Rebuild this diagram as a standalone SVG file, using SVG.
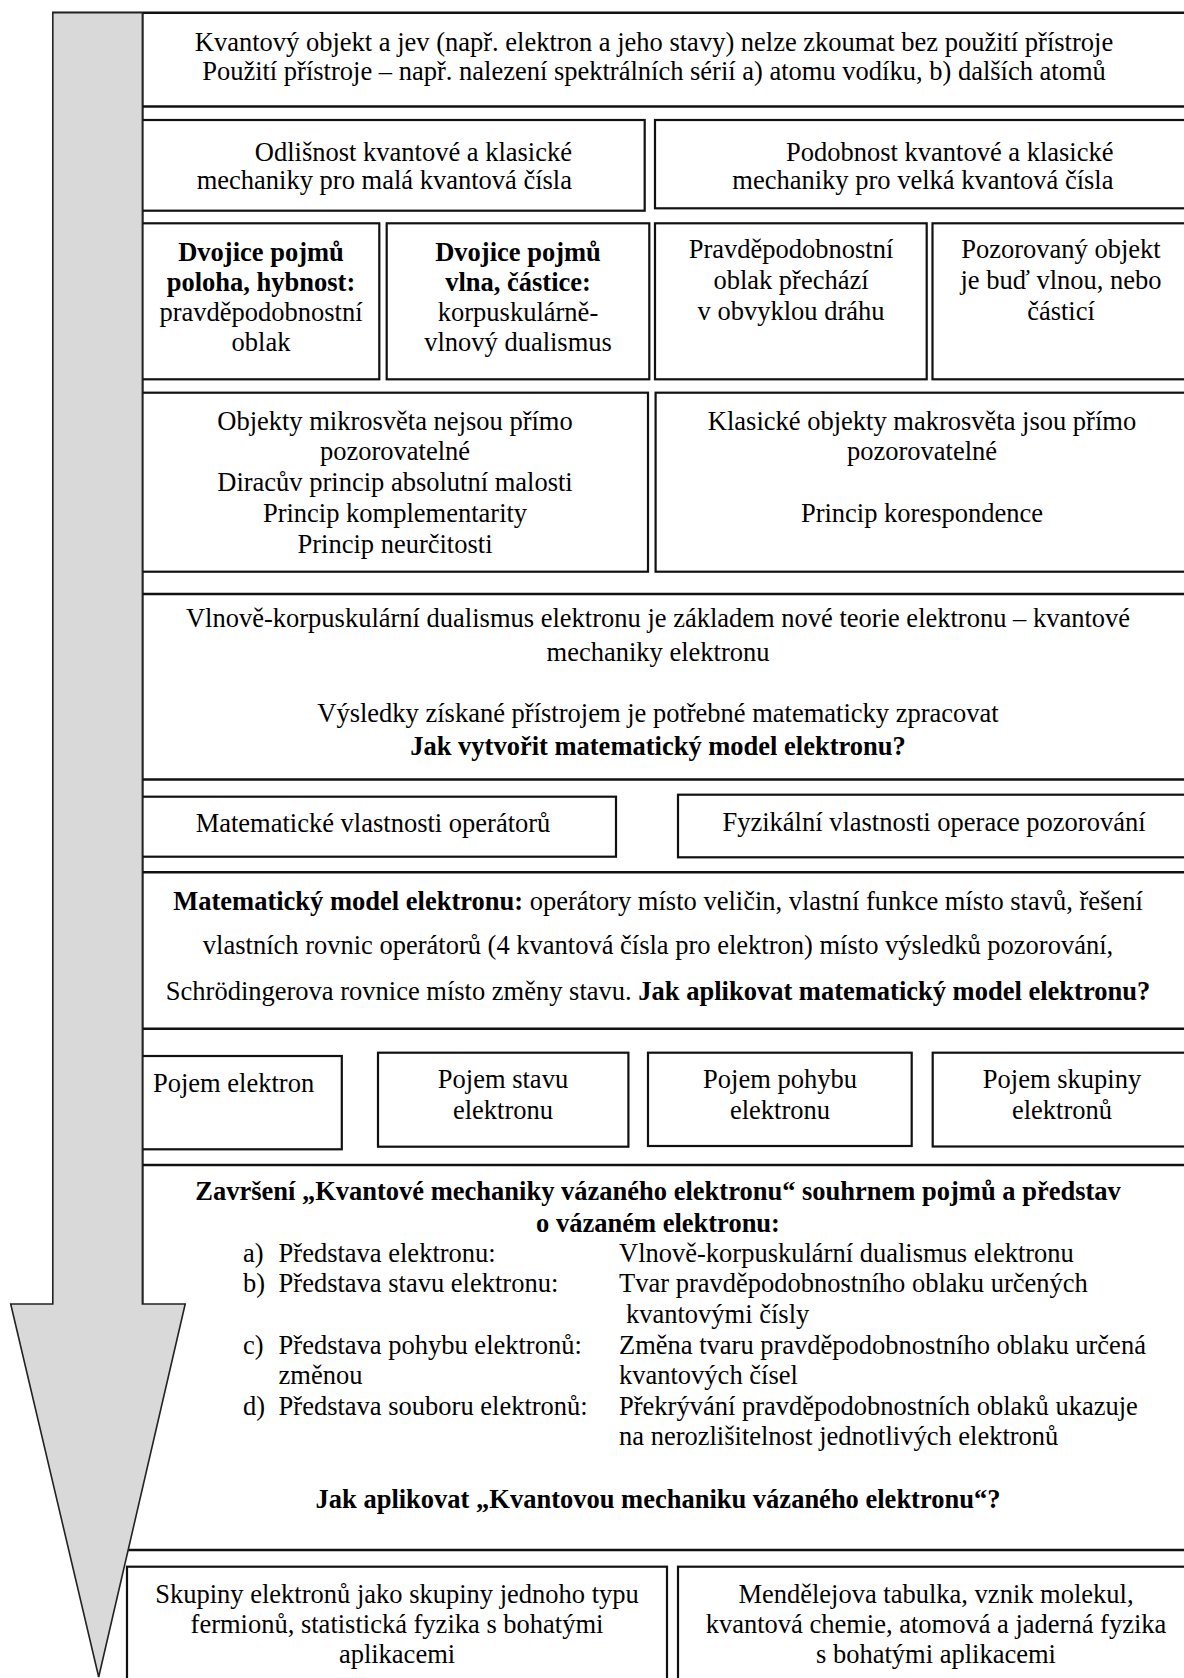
<svg xmlns="http://www.w3.org/2000/svg" width="1184" height="1678" viewBox="0 0 1184 1678">
<style>
text{font-family:"Liberation Serif","Times New Roman",serif;font-size:26.5px;fill:#000}
.c{text-anchor:middle}
.e{text-anchor:end}
.b{font-weight:bold}
.box{fill:#fff;stroke:#111;stroke-width:2.2}
.rl{stroke:#111;stroke-width:2.4;fill:none}
.arrow{fill:#d9d9d9;stroke:#222;stroke-width:1.6;stroke-linejoin:miter}
</style>
<rect width="1184" height="1678" fill="#fff"/>
<g id="connectors">
<line class="rl" x1="52" y1="12.7" x2="1192" y2="12.7"/>
<line class="rl" x1="142.4" y1="106.5" x2="1192" y2="106.5"/>
<line class="rl" x1="142.4" y1="594" x2="1192" y2="594"/>
<line class="rl" x1="142.4" y1="779.5" x2="1192" y2="779.5"/>
<line class="rl" x1="142.4" y1="872.3" x2="1192" y2="872.3"/>
<line class="rl" x1="142.4" y1="1028.7" x2="1192" y2="1028.7"/>
<line class="rl" x1="142.4" y1="1165" x2="1192" y2="1165"/>
<line class="rl" x1="110" y1="1550" x2="1192" y2="1550"/>
<line class="rl" x1="142.4" y1="12.7" x2="142.4" y2="1340"/>
</g>
<g id="n-kvantovy">
<text class="c" x="654" y="51">Kvantový objekt a jev (např. elektron a jeho stavy) nelze zkoumat bez použití přístroje</text>
<text class="c" x="654" y="80">Použití přístroje – např. nalezení spektrálních sérií a) atomu vodíku, b) dalších atomů</text>
</g>
<g id="n-odlisnost">
<rect class="box" x="142.4" y="120" width="502.3" height="90.7"/>
<text class="e" x="572" y="161">Odlišnost kvantové a klasické</text>
<text class="e" x="572" y="189">mechaniky pro malá kvantová čísla</text>
</g>
<g id="n-podobnost">
<rect class="box" x="655" y="120" width="537" height="88.3"/>
<text class="e" x="1113.5" y="161">Podobnost kvantové a klasické</text>
<text class="e" x="1113.5" y="189">mechaniky pro velká kvantová čísla</text>
</g>
<g id="n-dvojice1">
<rect class="box" x="142.4" y="223.3" width="236.9" height="156"/>
<text class="c b" x="261" y="261">Dvojice pojmů</text>
<text class="c b" x="261" y="291">poloha, hybnost:</text>
<text class="c" x="261" y="321">pravděpodobnostní</text>
<text class="c" x="261" y="351">oblak</text>
</g>
<g id="n-dvojice2">
<rect class="box" x="386.7" y="223.3" width="262.6" height="156"/>
<text class="c b" x="518" y="261">Dvojice pojmů</text>
<text class="c b" x="518" y="291">vlna, částice:</text>
<text class="c" x="518" y="321">korpuskulárně-</text>
<text class="c" x="518" y="351">vlnový dualismus</text>
</g>
<g id="n-oblak">
<rect class="box" x="655" y="223.3" width="271.7" height="156"/>
<text class="c" x="791" y="258">Pravděpodobnostní</text>
<text class="c" x="791" y="288.5">oblak přechází</text>
<text class="c" x="791" y="319.5">v obvyklou dráhu</text>
</g>
<g id="n-pozorovany">
<rect class="box" x="932.5" y="223.3" width="259.5" height="156"/>
<text class="c" x="1061" y="258">Pozorovaný objekt</text>
<text class="c" x="1061" y="288.5">je buď vlnou, nebo</text>
<text class="c" x="1061" y="319.5">částicí</text>
</g>
<g id="n-objekty">
<rect class="box" x="142.4" y="392.7" width="505.6" height="179"/>
<text class="c" x="395" y="430">Objekty mikrosvěta nejsou přímo</text>
<text class="c" x="395" y="460">pozorovatelné</text>
<text class="c" x="395" y="491">Diracův princip absolutní malosti</text>
<text class="c" x="395" y="522">Princip komplementarity</text>
<text class="c" x="395" y="553">Princip neurčitosti</text>
</g>
<g id="n-klasicke">
<rect class="box" x="655.6" y="392.7" width="536.4" height="179"/>
<text class="c" x="922" y="430">Klasické objekty makrosvěta jsou přímo</text>
<text class="c" x="922" y="460">pozorovatelné</text>
<text class="c" x="922" y="522">Princip korespondence</text>
</g>
<g id="n-vlnove">
<text class="c" x="658" y="626.5">Vlnově-korpuskulární dualismus elektronu je základem nové teorie elektronu – kvantové</text>
<text class="c" x="658" y="661">mechaniky elektronu</text>
<text class="c" x="658" y="721.5">Výsledky získané přístrojem je potřebné matematicky zpracovat</text>
<text class="c b" x="658" y="754.5">Jak vytvořit matematický model elektronu?</text>
</g>
<g id="n-mat-operatory">
<rect class="box" x="142.4" y="796.7" width="473.6" height="60"/>
<text class="c" x="373" y="832">Matematické vlastnosti operátorů</text>
</g>
<g id="n-fyz-pozorovani">
<rect class="box" x="678" y="794.7" width="514" height="62.6"/>
<text class="c" x="934" y="831">Fyzikální vlastnosti operace pozorování</text>
</g>
<g id="n-mat-model">
<text class="c" x="658" y="910"><tspan class="b">Matematický model elektronu:</tspan> operátory místo veličin, vlastní funkce místo stavů, řešení</text>
<text class="c" x="658" y="953.5">vlastních rovnic operátorů (4 kvantová čísla pro elektron) místo výsledků pozorování,</text>
<text class="c" x="658" y="1000">Schrödingerova rovnice místo změny stavu. <tspan class="b">Jak aplikovat matematický model elektronu?</tspan></text>
</g>
<g id="n-pojem-elektron">
<rect class="box" x="142.4" y="1056" width="199.4" height="93.3"/>
<text x="153" y="1091.5">Pojem elektron</text>
</g>
<g id="n-pojem-stavu">
<rect class="box" x="378" y="1052.7" width="250.4" height="94"/>
<text class="c" x="503" y="1087.5">Pojem stavu</text>
<text class="c" x="503" y="1118.5">elektronu</text>
</g>
<g id="n-pojem-pohybu">
<rect class="box" x="648" y="1052.7" width="263.7" height="93.3"/>
<text class="c" x="780" y="1087.5">Pojem pohybu</text>
<text class="c" x="780" y="1118.5">elektronu</text>
</g>
<g id="n-pojem-skupiny">
<rect class="box" x="932.7" y="1052.7" width="259.3" height="93.8"/>
<text class="c" x="1062" y="1087.5">Pojem skupiny</text>
<text class="c" x="1062" y="1118.5">elektronů</text>
</g>
<g id="n-zavrseni">
<text class="c b" x="658" y="1200">Završení „Kvantové mechaniky vázaného elektronu“ souhrnem pojmů a představ</text>
<text class="c b" x="658" y="1231.5">o vázaném elektronu:</text>
<text x="243" y="1262">a)</text><text x="278.6" y="1262">Představa elektronu:</text>
<text x="619" y="1262">Vlnově-korpuskulární dualismus elektronu</text>
<text x="243" y="1292">b)</text><text x="278.6" y="1292">Představa stavu elektronu:</text>
<text x="619" y="1292">Tvar pravděpodobnostního oblaku určených</text>
<text x="626" y="1323">kvantovými čísly</text>
<text x="243" y="1354">c)</text><text x="278.6" y="1354">Představa pohybu elektronů:</text>
<text x="619" y="1354">Změna tvaru pravděpodobnostního oblaku určená</text>
<text x="278.6" y="1384">změnou</text>
<text x="619" y="1384">kvantových čísel</text>
<text x="243" y="1415">d)</text><text x="278.6" y="1415">Představa souboru elektronů:</text>
<text x="619" y="1415">Překrývání pravděpodobnostních oblaků ukazuje</text>
<text x="619" y="1445">na nerozlišitelnost jednotlivých elektronů</text>
<text class="c b" x="658" y="1508">Jak aplikovat „Kvantovou mechaniku vázaného elektronu“?</text>
</g>
<g id="n-skupiny">
<rect class="box" x="127" y="1566.7" width="540" height="130"/>
<text class="c" x="397" y="1603">Skupiny elektronů jako skupiny jednoho typu</text>
<text class="c" x="397" y="1633">fermionů, statistická fyzika s bohatými</text>
<text class="c" x="397" y="1663">aplikacemi</text>
</g>
<g id="n-mendelejova">
<rect class="box" x="678" y="1566.7" width="514" height="130"/>
<text class="c" x="936" y="1603">Mendělejova tabulka, vznik molekul,</text>
<text class="c" x="936" y="1633">kvantová chemie, atomová a jaderná fyzika</text>
<text class="c" x="936" y="1663">s bohatými aplikacemi</text>
</g>
<g id="n-arrow">
<polygon class="arrow" points="52.8,12.7 142.4,12.7 142.4,1304 185.2,1304 98.7,1677 10.7,1304 52.8,1304"/>
</g>
</svg>
